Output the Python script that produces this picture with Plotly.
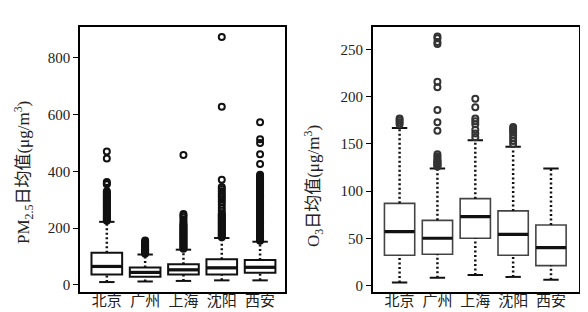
import plotly.graph_objects as go
from plotly.subplots import make_subplots

cities = ["北京", "广州", "上海", "沈阳", "西安"]

# PM2.5 box statistics
pm_q1 = [37, 29, 37, 37, 43]
pm_med = [65, 44, 53, 60, 62]
pm_q3 = [113, 61, 73, 90, 88]
pm_lo = [10, 12, 14, 16, 16]
pm_hi = [222, 107, 124, 165, 152]
pm_out = {
    "北京": [226, 230, 234, 238, 242, 246, 250, 254, 258, 262, 266, 270, 274, 278, 282,
            286, 290, 294, 298, 302, 306, 310, 314, 318, 322, 326, 330, 354, 358, 362, 445, 470],
    "广州": [110, 113, 116, 119, 122, 125, 128, 131, 134, 137, 140, 144, 148, 152, 156],
    "上海": [127, 131, 135, 139, 143, 147, 151, 155, 159, 163, 167, 171, 175, 179, 183, 187,
            191, 195, 199, 203, 207, 211, 215, 222, 230, 238, 244, 250, 457],
    "沈阳": [168, 172, 176, 180, 184, 188, 192, 196, 200, 204, 208, 212, 216, 220, 224, 228,
            232, 236, 240, 244, 248, 252, 262, 272, 282, 292, 300, 308, 315, 322, 330, 338,
            345, 370, 627, 873],
    "西安": [155, 159, 163, 167, 171, 175, 179, 183, 187, 191, 195, 199, 203, 207, 211, 215,
            219, 223, 227, 231, 235, 239, 243, 247, 251, 255, 259, 263, 267, 271, 275, 279,
            283, 287, 291, 295, 299, 303, 307, 311, 315, 319, 323, 327, 331, 335, 339, 343,
            347, 351, 355, 359, 363, 367, 371, 375, 379, 383, 388, 426, 460, 500, 513, 573],
}

# O3 box statistics
o3_q1 = [32, 33, 50, 32, 21]
o3_med = [57, 50, 73, 54, 40]
o3_q3 = [87, 69, 92, 79, 64]
o3_lo = [3, 8, 11, 9, 6]
o3_hi = [167, 124, 154, 147, 124]
o3_out = {
    "北京": [171, 173, 175, 177],
    "广州": [126, 127, 128, 129, 130, 131, 132, 133, 135, 137, 139, 164, 173, 186, 210, 216,
            256, 258, 262, 264],
    "上海": [157, 161, 165, 171, 174, 177, 189, 198],
    "沈阳": [150, 153, 156, 159, 162, 164, 166, 168],
    "西安": [],
}

pm_yticks = [0, 200, 400, 600, 800]
o3_yticks = [0, 50, 100, 150, 200, 250]
pm_title = "PM<sub>2.5</sub>日均值(μg/m<sup>3</sup>)"
o3_title = "O<sub>3</sub>日均值(μg/m<sup>3</sup>)"

SERIF = "Liberation Serif, Noto Sans CJK SC"

fig = make_subplots(rows=1, cols=2, horizontal_spacing=0.1758)


def add_panel(col, q1, med, q3, lo, hi, outs, box_color, box_lw, out_color):
    fig.add_trace(go.Box(
        x=cities, q1=q1, median=med, q3=q3, lowerfence=q1, upperfence=q3,
        width=0.8, fillcolor="white", line=dict(color=box_color, width=box_lw),
        whiskerwidth=0, boxpoints=False, showlegend=False, hoverinfo="skip"),
        row=1, col=col)
    wx, wy = [], []
    for c, a, b, d, e in zip(cities, lo, q1, q3, hi):
        wx += [c, c, None, c, c, None]
        wy += [a, b, None, d, e, None]
    fig.add_trace(go.Scatter(
        x=wx, y=wy, mode="lines",
        line=dict(color="#111", width=2.5, dash="2px,2.5px"),
        showlegend=False, hoverinfo="skip"), row=1, col=col)
    fig.add_trace(go.Scatter(
        x=cities + cities, y=lo + hi, mode="markers",
        marker=dict(symbol="line-ew", size=11, color="#111", line=dict(color="#111", width=2)),
        showlegend=False, hoverinfo="skip"), row=1, col=col)
    fig.add_trace(go.Scatter(
        x=cities, y=med, mode="markers",
        marker=dict(symbol="line-ew", size=21.5, color="#111", line=dict(color="#111", width=3.2)),
        showlegend=False, hoverinfo="skip"), row=1, col=col)
    ox, oy = [], []
    for c in cities:
        ox += [c] * len(outs[c])
        oy += outs[c]
    fig.add_trace(go.Scatter(
        x=ox, y=oy, mode="markers",
        marker=dict(symbol="circle-open", size=6, color=out_color,
                    line=dict(color=out_color, width=2)),
        showlegend=False, hoverinfo="skip"), row=1, col=col)


add_panel(1, pm_q1, pm_med, pm_q3, pm_lo, pm_hi, pm_out, "#111", 2, "#111")
add_panel(2, o3_q1, o3_med, o3_q3, o3_lo, o3_hi, o3_out, "#444", 1.6, "#333")

axis_common = dict(showline=True, linecolor="black", linewidth=1.5, mirror=True,
                   showgrid=False, zeroline=False,
                   tickfont=dict(family=SERIF, size=15, color="#222"))

fig.update_xaxes(**axis_common)
fig.update_xaxes(ticks="", ticklen=0, type="category", categoryorder="array",
                 categoryarray=cities, tickfont_family="Noto Sans CJK SC", tickfont_size=15,
                 ticklabelstandoff=-6)
fig.update_xaxes(range=[-0.7, 4.65], row=1, col=1)
fig.update_xaxes(range=[-0.71, 4.74], row=1, col=2)

fig.update_yaxes(**axis_common)
fig.update_yaxes(ticks="outside", ticklen=5, tickwidth=1.2, tickcolor="black")
fig.update_yaxes(range=[-25, 908], tickvals=pm_yticks, row=1, col=1)
fig.update_yaxes(range=[-7, 274], tickvals=o3_yticks, row=1, col=2)

fig.add_annotation(text=pm_title, xref="paper", yref="paper", x=-0.1142, y=0.449,
                   xanchor="center", yanchor="middle", textangle=-90, showarrow=False,
                   font=dict(family=SERIF, size=17, color="#222"))
fig.add_annotation(text=o3_title, xref="paper", yref="paper", x=0.467, y=0.40,
                   xanchor="center", yanchor="middle", textangle=-90, showarrow=False,
                   font=dict(family=SERIF, size=17, color="#222"))

fig.update_layout(width=588, height=312, margin=dict(l=72, r=17, t=19, b=28),
                  paper_bgcolor="white", plot_bgcolor="white")
fig.layout.xaxis.domain = [0, 0.4108]
fig.layout.xaxis2.domain = [0.5866, 1]
fig.update_xaxes(automargin=False)
fig.update_yaxes(automargin=False)

fig.write_html("out.html")
